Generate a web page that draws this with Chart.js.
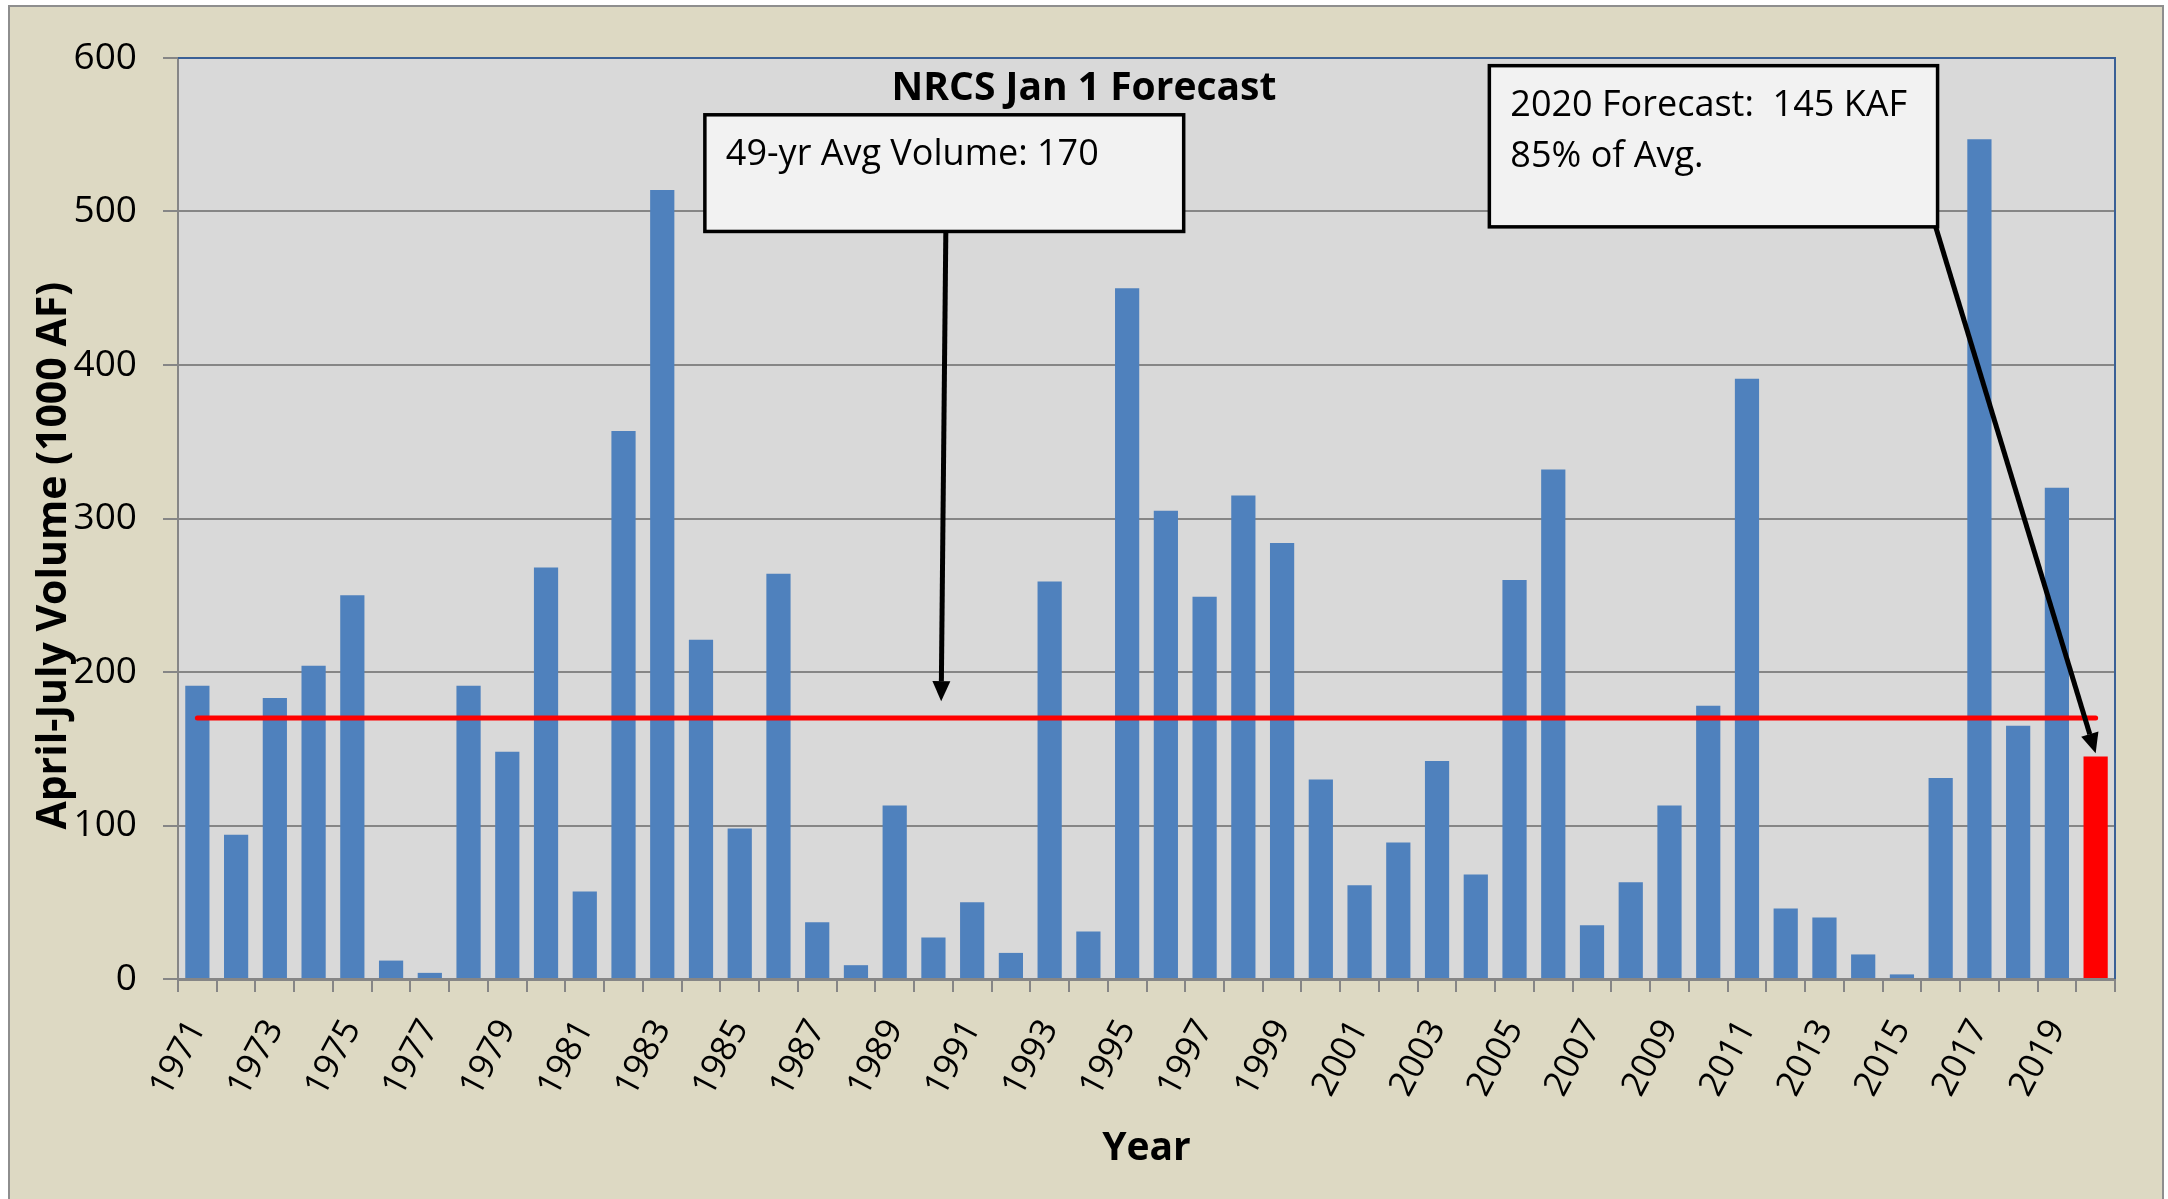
<!DOCTYPE html>
<html>
<head>
<meta charset="utf-8">
<script src="https://cdn.jsdelivr.net/npm/chart.js@4.4.1/dist/chart.umd.min.js"></script>
<style>
  html, body { margin: 0; padding: 0; background: #ffffff; overflow: hidden; }
  #frame { position: absolute; left: 8px; top: 5px; width: 2156px; height: 1300px;
           background: #DDD9C3; border: 2px solid #8E8E8E; box-sizing: border-box; }
  #c { position: absolute; left: 0; top: 0; }
</style>
</head>
<body>
<div id="frame"></div>
<canvas id="c" width="2168" height="1199"></canvas>
<script>
// ---------------- DATA ----------------
const years = ['1971','1972','1973','1974','1975','1976','1977','1978','1979','1980',
  '1981','1982','1983','1984','1985','1986','1987','1988','1989','1990',
  '1991','1992','1993','1994','1995','1996','1997','1998','1999','2000',
  '2001','2002','2003','2004','2005','2006','2007','2008','2009','2010',
  '2011','2012','2013','2014','2015','2016','2017','2018','2019','2020'];
const volumes = [191, 94, 183, 204, 250, 12, 4, 191, 148, 268,
  57, 357, 514, 221, 98, 264, 37, 9, 113, 27,
  50, 17, 259, 31, 450, 305, 249, 315, 284, 130,
  61, 89, 142, 68, 260, 332, 35, 63, 113, 178,
  391, 46, 40, 16, 3, 131, 547, 165, 320, 145];
const forecastYear = '2020';
const avgVolume = 170;
const yTickValues = [0, 100, 200, 300, 400, 500, 600];
const chartTitle = 'NRCS Jan 1 Forecast';
const xTitle = 'Year';
const yTitle = 'April-July Volume (1000 AF)';
const avgNoteLines = ['49-yr Avg Volume: 170'];
const forecastNoteLines = ['2020 Forecast:  145 KAF', '85% of Avg.'];

// ---------------- STYLE / LAYOUT ----------------
const BLUE = '#4F81BD', RED = '#FF0000', GRID = '#868686';
const FONT = '"Open Sans", "DejaVu Sans", sans-serif';

// annotation geometry in data units (category value, volume)
const notes = [
  { lines: avgNoteLines, x0: 13.10, y0: 563, x1: 25.46, y1: 487,
    from: [19.32, 487], to: [19.20, 181] },
  { lines: forecastNoteLines, x0: 33.35, y0: 595, x1: 44.92, y1: 490,
    from: [44.87, 490], to: [49.0, 147] }
];

const bgPlugin = {
  id: 'plotBg',
  beforeDraw(chart) {
    const {ctx, chartArea: a} = chart;
    ctx.save();
    ctx.fillStyle = '#D9D9D9';
    ctx.fillRect(a.left, a.top, a.right - a.left, a.bottom - a.top);
    ctx.restore();
  },
  beforeDatasetsDraw(chart) {
    const {ctx, chartArea: a} = chart;
    ctx.save();
    ctx.strokeStyle = '#3A6096';
    ctx.lineWidth = 2;
    ctx.beginPath();
    ctx.moveTo(a.left, a.top);
    ctx.lineTo(a.right, a.top);
    ctx.lineTo(a.right, a.bottom);
    ctx.stroke();
    ctx.restore();
  }
};

function arrow(ctx, x0, y0, x1, y1) {
  const ang = Math.atan2(y1 - y0, x1 - x0);
  const len = 20, hw = 9;
  const bx = x1 - len * Math.cos(ang), by = y1 - len * Math.sin(ang);
  ctx.beginPath();
  ctx.moveTo(x0, y0);
  ctx.lineTo(bx, by);
  ctx.stroke();
  ctx.beginPath();
  ctx.moveTo(x1, y1);
  ctx.lineTo(bx + hw * Math.sin(ang), by - hw * Math.cos(ang));
  ctx.lineTo(bx - hw * Math.sin(ang), by + hw * Math.cos(ang));
  ctx.closePath();
  ctx.fill();
}

const notePlugin = {
  id: 'notes',
  afterDatasetsDraw(chart) {
    const {ctx} = chart;
    const xs = chart.scales.x, ys = chart.scales.y;
    ctx.save();
    notes.forEach(n => {
      const L = xs.getPixelForValue(n.x0), R = xs.getPixelForValue(n.x1);
      const T = ys.getPixelForValue(n.y0), B = ys.getPixelForValue(n.y1);
      ctx.strokeStyle = '#000'; ctx.fillStyle = '#000'; ctx.lineWidth = 5;
      arrow(ctx, xs.getPixelForValue(n.from[0]), ys.getPixelForValue(n.from[1]),
                 xs.getPixelForValue(n.to[0]), ys.getPixelForValue(n.to[1]));
      ctx.fillStyle = '#F2F2F2';
      ctx.fillRect(L, T, R - L, B - T);
      ctx.strokeStyle = '#000'; ctx.lineWidth = 3.5;
      ctx.strokeRect(L, T, R - L, B - T);
      ctx.fillStyle = '#000';
      ctx.font = '36px ' + FONT;
      ctx.textBaseline = 'alphabetic';
      ctx.textAlign = 'left';
      n.lines.forEach((t, i) => ctx.fillText(t, L + 21, T + 50 + i * 51.6));
    });
    ctx.restore();
  }
};

new Chart(document.getElementById('c'), {
  data: {
    labels: years,
    datasets: [
      { type: 'line', label: 'Average', data: years.map(() => avgVolume),
        borderColor: RED, borderWidth: 5, pointRadius: 0, borderCapStyle: 'round',
        fill: false, order: 1 },
      { type: 'bar', label: 'April-July Volume', data: volumes,
        backgroundColor: years.map(y => y === forecastYear ? RED : BLUE),
        barPercentage: 0.625, categoryPercentage: 1.0, order: 2 }
    ]
  },
  options: {
    responsive: false,
    animation: false,
    devicePixelRatio: 1,
    layout: { padding: { left: 0, right: 0, top: 0, bottom: 0 } },
    plugins: {
      legend: { display: false },
      tooltip: { enabled: false },
      title: {
        display: true, text: chartTitle, color: '#000',
        font: { family: FONT, size: 39, weight: 'bold', lineHeight: 1.2 },
        padding: { top: 65.6, bottom: -54.4 }
      }
    },
    scales: {
      x: {
        type: 'category',
        grid: { display: true, drawOnChartArea: false, drawTicks: true, tickLength: 13,
                color: GRID, lineWidth: 2, offset: true },
        border: { display: true, color: GRID, width: 3 },
        ticks: {
          autoSkip: false, minRotation: 62, maxRotation: 62, padding: 21, color: '#000',
          font: { family: FONT, size: 35 },
          callback: (v, i) => (i % 2 === 0 ? years[i] : '')
        },
        title: { display: true, text: xTitle, color: '#000',
                 font: { family: FONT, size: 39, weight: 'bold', lineHeight: 1.2 },
                 padding: { top: 0, bottom: 27 } },
        afterFit: s => { s.height = 220; }
      },
      y: {
        min: 0, max: 600,
        afterBuildTicks: s => { s.ticks = yTickValues.map(v => ({ value: v })); },
        grid: { color: GRID, lineWidth: 2, tickLength: 15, drawTicks: true },
        border: { display: true, color: GRID, width: 2 },
        ticks: { padding: 26, color: '#000', font: { family: FONT, size: 37 } },
        title: { display: true, text: yTitle + '       ', color: '#000',
                 font: { family: FONT, size: 41, weight: 'bold', lineHeight: 1.2 },
                 padding: { top: 30, bottom: 0 } },
        afterFit: s => { s.width = 178; }
      },
      yRight: {
        position: 'right', display: true, min: 0, max: 600,
        grid: { display: false }, border: { display: false },
        ticks: { display: false },
        afterFit: s => { s.width = 53; }
      }
    }
  },
  plugins: [bgPlugin, notePlugin]
});
</script>
</body>
</html>
